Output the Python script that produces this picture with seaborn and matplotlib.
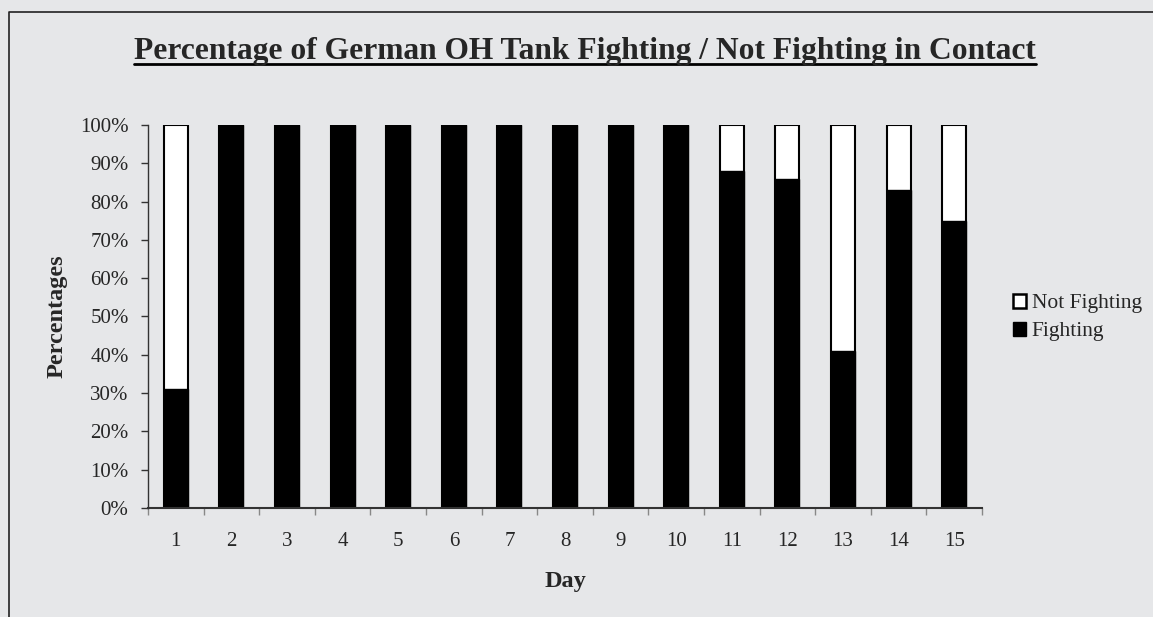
import numpy as np
import pandas as pd
import matplotlib as mpl
mpl.use("Agg")
import matplotlib.pyplot as plt
from matplotlib.patches import Patch
from matplotlib.lines import Line2D
import seaborn as sns

sns.set_style("white")
plt.rcParams['font.family'] = ['Liberation Serif', 'DejaVu Serif']

# data
days = [str(d) for d in range(1, 16)]
fighting = [31, 100, 100, 100, 100, 100, 100, 100, 100, 100, 88, 86, 41, 83, 75]
not_fighting = [69, 0, 0, 0, 0, 0, 0, 0, 0, 0, 12, 14, 59, 17, 25]
yticks = [0, 10, 20, 30, 40, 50, 60, 70, 80, 90, 100]

df = pd.DataFrame({'Day': days, 'Fighting': fighting, 'Not Fighting': not_fighting})
df['Total'] = df['Fighting'] + df['Not Fighting']

bg = '#e6e7e9'
fig = plt.figure(figsize=(11.53, 6.17), dpi=100)
fig.patch.set_facecolor(bg)
ax = fig.add_axes([0.1284, 0.1767, 0.7233, 0.6207])
ax.set_facecolor(bg)

# stacked: total (white, outlined) underneath, fighting (black) on top
sns.barplot(data=df, x='Day', y='Total', color='white', edgecolor='black',
            linewidth=1.5, width=0.43, saturation=1, ax=ax)
sns.barplot(data=df, x='Day', y='Fighting', color='black', edgecolor='black',
            linewidth=1.0, width=0.43, saturation=1, ax=ax)

ax.set_xlim(-0.5, 14.5)
ax.set_ylim(0, 100)
ax.set_yticks(yticks)
ax.set_yticklabels([f'{t}%' for t in yticks], fontsize=15)
ax.tick_params(axis='y', direction='out', length=5, width=1, color='#333333', pad=9, left=True)
ax.tick_params(axis='x', which='major', length=0, labelsize=15, pad=17)
ax.set_xticks(np.arange(-0.5, 15, 1), minor=True)
ax.tick_params(axis='x', which='minor', direction='out', length=5, width=1,
               color='#888888', bottom=True)

for s in ['top', 'right']:
    ax.spines[s].set_visible(False)
ax.spines['left'].set_color('#333333')
ax.spines['bottom'].set_color('#333333')
ax.spines['left'].set_linewidth(1.0)
ax.spines['bottom'].set_linewidth(1.5)

ax.set_xlabel('Day', fontsize=17.5, fontweight='bold', labelpad=15)
ax.set_ylabel('Percentages', fontsize=17.5, fontweight='bold', labelpad=9)

handles = [Patch(facecolor='white', edgecolor='black', linewidth=1.8, label='Not Fighting'),
           Patch(facecolor='black', edgecolor='black', label='Fighting')]
fig.legend(handles=handles, loc='center left', bbox_to_anchor=(0.862, 0.485),
           frameon=False, fontsize=15.5, handlelength=0.6, handleheight=0.6,
           handletextpad=0.25, labelspacing=0.4)

title = fig.text(0.507, 0.905, 'Percentage of German OH Tank Fighting / Not Fighting in Contact',
                 ha='center', va='baseline', fontsize=22.7, fontweight='bold')

# underline under the title
fig.canvas.draw()
bb = title.get_window_extent(fig.canvas.get_renderer()).transformed(fig.transFigure.inverted())
fig.add_artist(Line2D([bb.x0, bb.x1], [0.897, 0.897], color='black', linewidth=2,
                      transform=fig.transFigure))

# outer frame (left and top edges visible in the crop)
fig.add_artist(Line2D([0.008, 0.008, 1.0], [0.0, 0.980, 0.980], color='#222222',
                      linewidth=1.2, transform=fig.transFigure))

fig.savefig('out.png', dpi=100, facecolor=bg)
